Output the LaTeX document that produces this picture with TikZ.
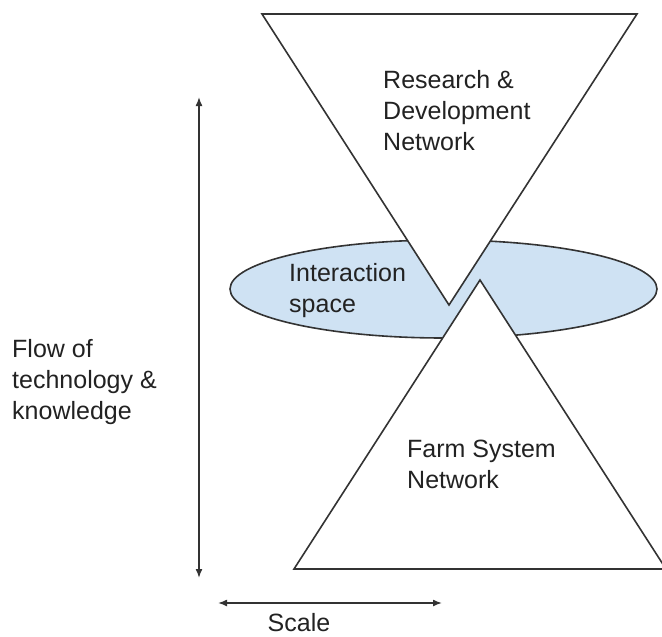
\documentclass[tikz,border=0pt]{standalone}
\usepackage{fontspec}
\setmainfont{Liberation Sans}
\usetikzlibrary{arrows.meta,shapes.geometric}
\definecolor{ink}{HTML}{333333}
\definecolor{txt}{HTML}{222222}
\definecolor{paleblue}{HTML}{CFE2F3}
\tikzset{
  shapeline/.style={draw=ink, line width=1.6pt, line join=miter},
  lbl/.style={anchor=base west, inner sep=0pt, align=left, text=txt,
    font=\fontsize{25}{31}\selectfont},
  dblarrow/.style={draw=ink, line width=1.5pt, {Latex[length=9pt,width=7pt]}-{Latex[length=9pt,width=7pt]}}
}
\begin{document}
\begin{tikzpicture}[x=1pt,y=-1pt]
\useasboundingbox (0,0) rectangle (662,637);
\fill[white] (0,0) rectangle (662,637);
% interaction ellipse
\node[shapeline, fill=paleblue, ellipse, minimum width=427pt, minimum height=98pt, inner sep=0pt] (space) at (443.5,289) {};
% research & development triangle (inverted)
\filldraw[shapeline, fill=white] (262,14) -- (637,14) -- (449,305) -- cycle;
% farm system triangle
\filldraw[shapeline, fill=white] (480,280) -- (666,569) -- (294,569) -- cycle;
% labels (anchor = baseline of last line)
\node[lbl] (rd) at (383,150) {Research \&\\Development\\Network};
\node[lbl] (ia) at (289,312) {Interaction\\space};
\node[lbl] (fs) at (407,488) {Farm System\\Network};
\node[lbl] (flow) at (12,419) {Flow of\\technology \&\\knowledge};
\node[lbl, anchor=base] (scale) at (299,631) {Scale};
% arrows
\coordinate (vtop) at (199,97);
\coordinate (vbot) at (199,578);
\coordinate (hl) at (218,603);
\coordinate (hr) at (442,603);
\draw[dblarrow] (vtop) -- (vbot);
\draw[dblarrow] (hl) -- (hr);
\end{tikzpicture}
\end{document}
